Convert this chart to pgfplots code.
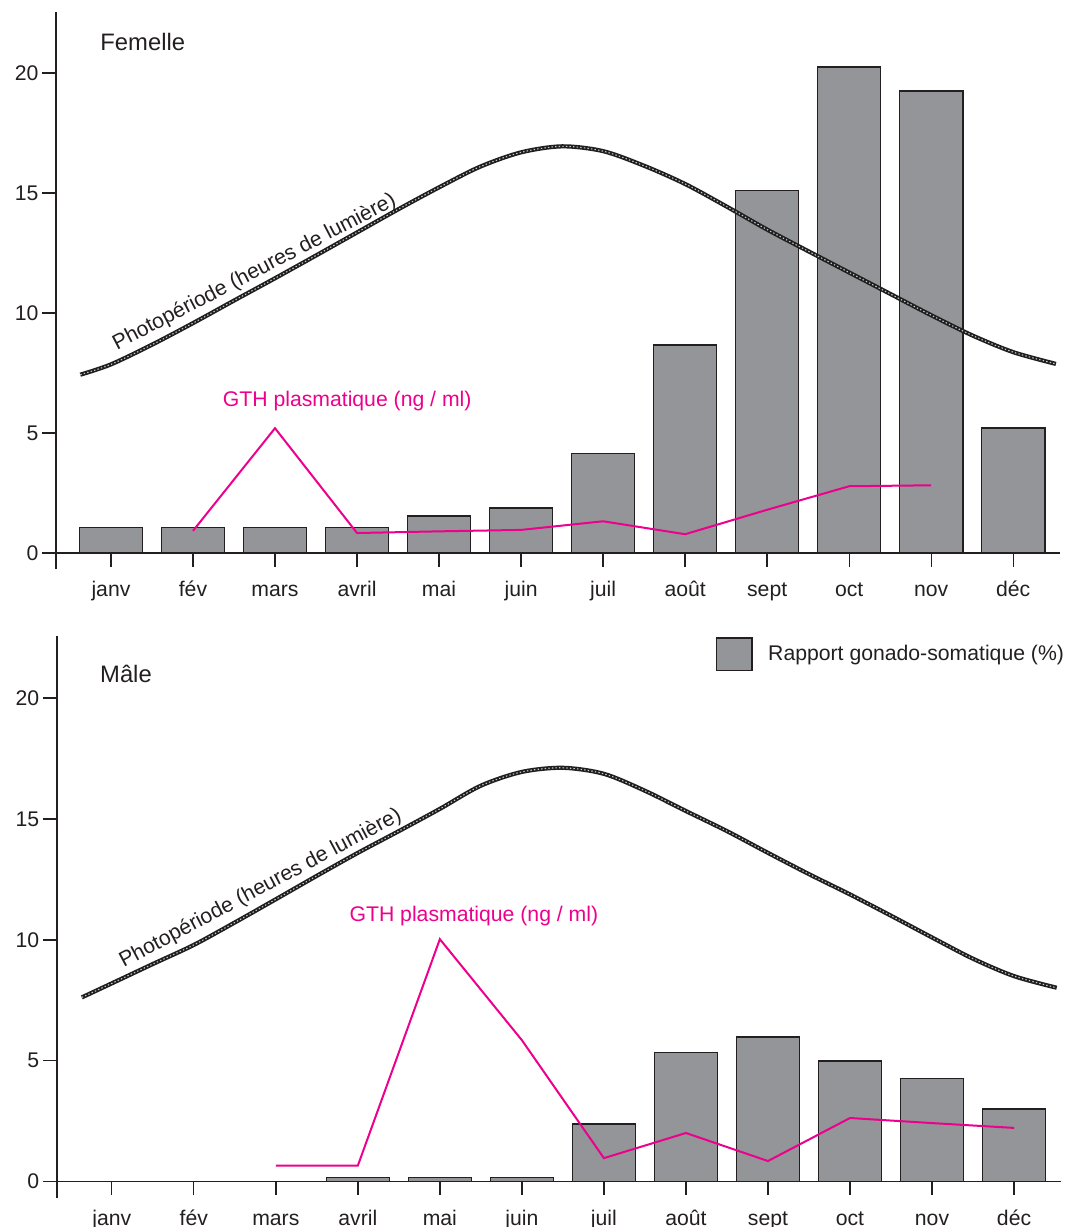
\documentclass[border=0pt]{standalone}
\usepackage{fontspec}
\setmainfont{Liberation Sans}
\usepackage{pgfplots}
\usepackage{pgfplotstable}
\pgfplotsset{compat=1.18}
\definecolor{gsfill}{HTML}{939598}
\definecolor{gsdraw}{HTML}{231F20}
\definecolor{gth}{HTML}{EC008C}
\definecolor{txt}{HTML}{231F20}
\newcommand{\lab}{\fontsize{10.6}{12.7}\selectfont}
\newcommand{\ttl}{\fontsize{11.9}{14}\selectfont}
\pgfplotsset{
  panel/.style={
    scale only axis,
    width=502pt,
    xmin=-0.67, xmax=11.57,
    axis y line=left,
    axis x line=middle,
    axis line style={-, draw=txt, line width=0.7pt},
    xtick={0,...,11},
    xticklabels={janv,fév,mars,avril,mai,juin,juil,août,sept,oct,nov,déc},
    ytick={0,5,10,15,20},
    tick style={draw=txt, line width=0.7pt},
    xtick align=outside,
    ytick align=outside,
    major tick length=6.8pt,
    hide obscured x ticks=false,
    hide obscured y ticks=false,
    tick label style={font=\lab, text=txt},
    xticklabel style={text height=8pt, text depth=2.5pt, yshift=-3.5pt},
    yticklabel style={xshift=1.5pt},
    /pgf/number format/assume math mode=true,
    clip=false,
  },
  gsbar/.style={ybar, bar width=0.77, fill=gsfill, draw=gsdraw, line width=0.7pt, bar shift=0pt},
  gthline/.style={draw=gth, line width=1pt, mark=none, sharp plot},
  photo/.style={smooth, draw=black!88, line width=2.1pt, mark=none},
  photodots/.style={smooth, draw=white!78!black, line width=0.55pt, mark=none, dash pattern=on 0.7pt off 1.1pt},
}
\pgfplotstableread{
x y
-0.374 7.43
0.0 7.86
0.5 8.68
1.0 9.58
1.5 10.52
2.0 11.45
2.5 12.40
3.0 13.36
3.5 14.32
4.0 15.24
4.5 16.10
5.0 16.70
5.5 16.95
6.0 16.75
6.5 16.14
7.0 15.38
7.5 14.45
8.0 13.48
8.5 12.58
9.0 11.69
9.5 10.80
10.0 9.91
10.5 9.07
11.0 8.37
11.52 7.88
}\photoF
\pgfplotstableread{
x y
-0.365 7.62
0.0 8.20
0.5 9.00
1.0 9.79
1.5 10.72
2.0 11.68
2.5 12.65
3.0 13.60
3.5 14.50
4.0 15.42
4.5 16.38
5.0 16.95
5.5 17.12
6.0 16.87
6.5 16.17
7.0 15.33
7.5 14.50
8.0 13.60
8.5 12.72
9.0 11.88
9.5 11.00
10.0 10.10
10.5 9.22
11.0 8.50
11.52 8.02
}\photoM
\begin{document}
\begin{tikzpicture}
\useasboundingbox (0,0) rectangle (539.5pt,-613.5pt);
% ---------- Femelle ----------
\begin{axis}[panel, at={(28pt,-284.5pt)}, anchor=south west,
  height=278.5pt, ymin=-0.67, ymax=22.55]
\addplot[gsbar, forget plot] coordinates {
(0,1.05) (1,1.05) (2,1.05) (3,1.05) (4,1.54) (5,1.88)
(6,4.15) (7,8.66) (8,15.1) (9,20.25) (10,19.26) (11,5.21)};
\addplot[photo, forget plot] table {\photoF};
\addplot[photodots, forget plot] table {\photoF};
\addplot[gthline, forget plot] coordinates {
(1,0.92) (2,5.2) (3,0.83) (4,0.9) (5,0.96) (6,1.32) (7,0.78) (8,1.8) (9,2.78) (10,2.82)};
\node[anchor=west, font=\ttl, text=txt, inner sep=0pt] at (axis cs:-0.133,21.3) {Femelle};
\node[font=\lab, text=txt, rotate=27.5, inner sep=0pt] at (axis cs:1.75,11.69) {Photopériode (heures de lumière)};
\node[font=\lab, text=gth, inner sep=0pt] at (axis cs:2.88,6.33) {GTH plasmatique (ng / ml)};
\end{axis}
% ---------- Male ----------
\begin{axis}[panel, at={(28.4pt,-599pt)}, anchor=south west,
  height=280.85pt, ymin=-0.68, ymax=22.56,
  legend style={at={(0.656,0.999)}, anchor=north west, draw=none, fill=none,
    inner sep=0pt, font=\lab, text=txt, column sep=0pt,
    nodes={inner sep=0pt}},
  legend cell align=left]
\addplot[gsbar, legend image code/.code={\draw[fill=gsfill, draw=gsdraw, line width=0.7pt] (0pt,-8.2pt) rectangle (17.75pt,8.2pt); \path (25.5pt,0pt);}] coordinates {
(3,0.16) (4,0.16) (5,0.16)
(6,2.38) (7,5.33) (8,5.99) (9,4.99) (10,4.27) (11,3.0)};
\addlegendentry{Rapport gonado-somatique (\%)}
\addplot[photo, forget plot] table {\photoM};
\addplot[photodots, forget plot] table {\photoM};
\addplot[gthline, forget plot] coordinates {
(2,0.66) (3,0.66) (4,10.03) (5,5.85) (6,0.97) (7,2.01) (8,0.85) (9,2.63) (10,2.42) (11,2.22)};
\node[anchor=west, font=\ttl, text=txt, inner sep=0pt] at (axis cs:-0.146,21.0) {Mâle};
\node[font=\lab, text=txt, rotate=28, inner sep=0pt] at (axis cs:1.815,12.12) {Photopériode (heures de lumière)};
\node[font=\lab, text=gth, inner sep=0pt] at (axis cs:4.415,10.98) {GTH plasmatique (ng / ml)};
\end{axis}
\end{tikzpicture}
\end{document}
